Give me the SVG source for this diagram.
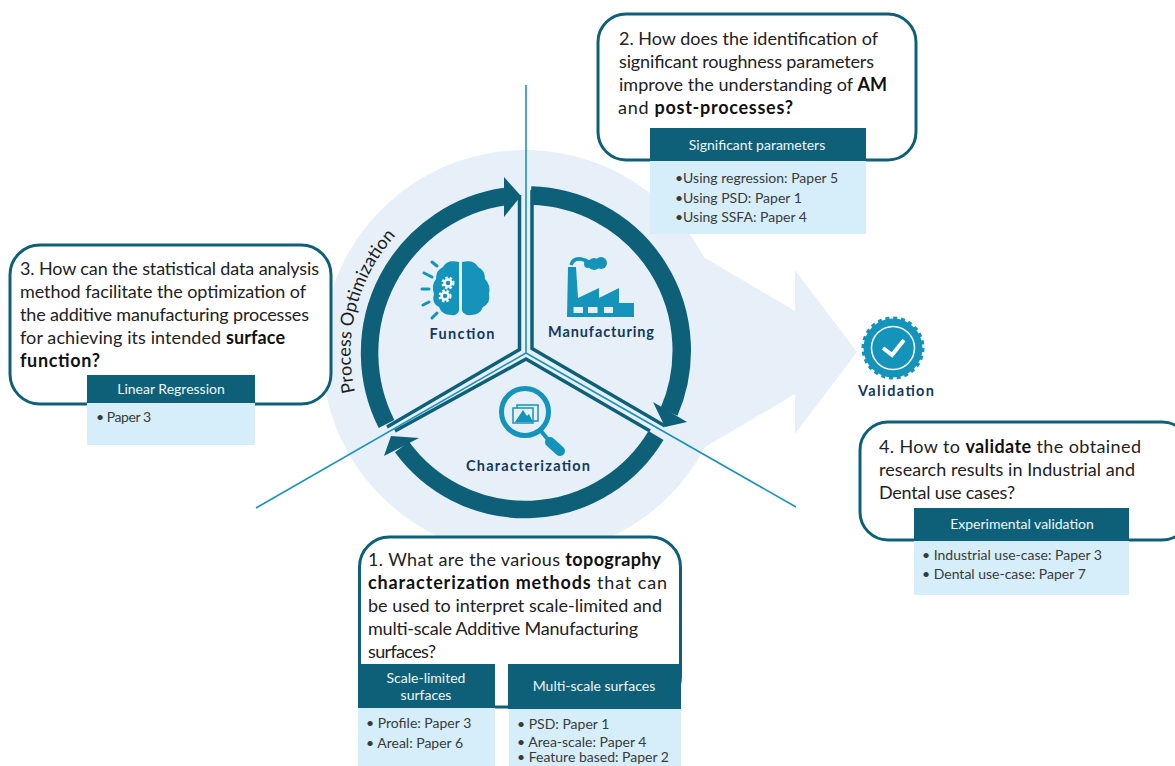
<svg xmlns="http://www.w3.org/2000/svg" width="1175" height="766" viewBox="0 0 1175 766">
<style>
text{font-family:"Lato","Liberation Sans",sans-serif;}
.q{font-size:18px;fill:#222}
.b{font-weight:700;fill:#111}
.box{fill:#fff;stroke:#0e6079;stroke-width:3}
.hd{fill:#0e6079}
.bd{fill:#d5eef9}
.ht{font-size:14px;fill:#eef7fb;text-anchor:middle}
.li{font-size:14px;fill:#3a3a3a}
.lab{font-size:14.5px;font-weight:700;fill:#12395f;text-anchor:middle}
.ring{fill:none;stroke:#0e6079;stroke-width:17.500}
.wall{fill:none;stroke:#0e6079;stroke-width:3.500}
.ray{stroke:#1493bb;stroke-width:3;stroke-linecap:round;fill:none}
.ic{fill:#1493bb}
.tl{stroke:#1a93bc;stroke-width:1.600;fill:none}
.gear{fill:none;stroke:#fff;stroke-width:2.500}
.cog{fill:none;stroke:#fff;stroke-width:2;stroke-dasharray:2.500 2}
</style>
<defs><path id="po" d="M355 392A175 175 0 0 1 405 226"/></defs>

<g id="background">
<circle cx="525" cy="353" r="203" fill="#e7f0f8"/>
<polygon points="700,255 795,311 795,270 857,352 795,434 795,394 700,450" fill="#e7f0f8"/>
</g>

<g id="connectors">
<path class="ring" d="M386.500 424A158 158 0 0 1 505 196.500"/>
<polygon points="504,177 521,196 504,217" fill="#0e6079"/>
<path class="ring" style="stroke-width:18.500" d="M531 195.500A155 155 0 0 1 669 412"/>
<polygon points="653,402 665,427 687,422" fill="#0e6079"/>
<path class="ring" d="M656 435.500A152.600 152.600 0 0 1 402 447"/>
<polygon points="419,438 391,436 384,456" fill="#0e6079"/>
<path class="wall" d="M519.500 195V349.500L387 427"/>
<path class="wall" d="M532 190V348.500L665 426"/>
<path class="wall" d="M395 431L526 359L650 431"/>
<path class="tl" d="M526 85V353L256 508M526 353L796 507"/>
</g>

<g id="function">
<path class="ray" d="M432 262L437 266M424 273L432 277M422 289L429 289M423 305L429 302M432 318L437 313"/>
<path class="ic" d="M459 262Q447 259 443 267Q436 270 436 279Q431 285 434 294Q431 303 439 307Q442 315 451 315Q457 316 459 311Z"/>
<path class="ic" d="M462 262Q474 259 478 267Q485 270 485 279Q491 285 489 294Q491 303 483 307Q480 315 471 315Q465 316 462 311Z"/>
<circle class="gear" cx="448" cy="283" r="3.500"/><circle class="cog" cx="448" cy="283" r="5.500"/>
<circle class="gear" cx="445" cy="296" r="3.500"/><circle class="cog" cx="445" cy="296" r="5.500"/>
<text class="lab" x="462" y="339" textLength="65">Function</text>
</g>

<g id="manufacturing">
<path class="ic" d="M568 267H576L578 298L599 288V298L619 288V303H634V317H567Z"/>
<g fill="#e7f0f8"><rect x="573.500" y="307" width="9.500" height="6"/><rect x="588" y="307" width="9.500" height="6"/><rect x="604" y="307" width="9" height="6"/></g>
<path d="M571 265Q573 258 581 259Q586 260 590 263" fill="none" stroke="#1493bb" stroke-width="3.500"/>
<circle class="ic" cx="588" cy="264" r="4"/><circle class="ic" cx="594" cy="264" r="6"/><circle class="ic" cx="601" cy="263" r="6"/>
<text class="lab" x="601" y="337" textLength="106">Manufacturing</text>
</g>

<g id="characterization">
<circle cx="525" cy="412" r="23.500" fill="none" stroke="#1493bb" stroke-width="5"/>
<path d="M541 431L550 442" stroke="#1493bb" stroke-width="4" fill="none"/>
<path d="M550 442L560 451" stroke="#1493bb" stroke-width="10" stroke-linecap="round" fill="none"/>
<rect x="517" y="405" width="21" height="16" fill="none" stroke="#1493bb" stroke-width="1.500"/>
<rect x="513" y="408" width="20" height="15" fill="#e7f0f8" stroke="#1493bb" stroke-width="1.500"/>
<polygon points="515,422 523,410 527,416 529,414 533,422" fill="#1493bb"/>
<text class="lab" x="528" y="471" textLength="124">Characterization</text>
</g>

<g id="validation">
<circle cx="893" cy="348" r="29.500" fill="#1493bb" stroke="#1493bb" stroke-width="4" stroke-dasharray="4 3.720"/>
<circle cx="893" cy="348" r="21.500" fill="none" stroke="#fff" stroke-width="1.500"/>
<path d="M883 348L892 355L904 340" fill="none" stroke="#fff" stroke-width="4"/>
<text class="lab" x="896" y="396" textLength="76">Validation</text>
</g>

<text font-size="18" fill="#1c1c1c" textLength="168"><textPath href="#po" textLength="168">Process Optimization</textPath></text>

<g id="question-2">
<rect class="box" x="598" y="14" width="318" height="146" rx="28"/>
<text class="q" x="619" y="45" textLength="259">2. How does the identification of</text>
<text class="q" x="619" y="68" textLength="255">significant roughness parameters</text>
<text class="q" x="619" y="91" textLength="268">improve the understanding of <tspan class="b">AM</tspan></text>
<text class="q" x="618" y="114" textLength="175">and <tspan class="b">post-processes?</tspan></text>
<rect class="bd" x="650" y="161" width="216" height="73"/>
<rect class="hd" x="650" y="128" width="216" height="33"/>
<text class="ht" x="757" y="150">Significant parameters</text>
<text class="li" x="675" y="183">•Using regression: Paper 5</text>
<text class="li" x="675" y="203">•Using PSD: Paper 1</text>
<text class="li" x="675" y="222">•Using SSFA: Paper 4</text>
</g>

<g id="question-3">
<rect class="box" x="10" y="245" width="321" height="159" rx="30"/>
<text class="q" x="20" y="275" textLength="299">3. How can the statistical data analysis</text>
<text class="q" x="20" y="298" textLength="286">method facilitate the optimization of</text>
<text class="q" x="20" y="321" textLength="289">the additive manufacturing processes</text>
<text class="q" x="20" y="344" textLength="265">for achieving its intended <tspan class="b">surface</tspan></text>
<text class="q b" x="20" y="367" textLength="80">function?</text>
<rect class="bd" x="87" y="402" width="168" height="43"/>
<rect class="hd" x="87" y="375" width="168" height="28"/>
<text class="ht" x="171" y="394">Linear Regression</text>
<text class="li" x="96" y="422" textLength="55">• Paper 3</text>
</g>

<g id="question-4">
<rect class="box" x="860" y="422" width="330" height="118" rx="28"/>
<text class="q" x="879" y="453" textLength="262">4. How to <tspan class="b">validate</tspan> the obtained</text>
<text class="q" x="879" y="476" textLength="256">research results in Industrial and</text>
<text class="q" x="879" y="499" textLength="136">Dental use cases?</text>
<rect class="bd" x="914" y="540" width="215" height="55"/>
<rect class="hd" x="914" y="508" width="215" height="33"/>
<text class="ht" x="1022" y="529">Experimental validation</text>
<text class="li" x="922" y="560">• Industrial use-case: Paper 3</text>
<text class="li" x="922" y="579">• Dental use-case: Paper 7</text>
</g>

<g id="question-1">
<rect class="box" x="359.500" y="537" width="321" height="170" rx="30"/>
<text class="q" x="368" y="566" textLength="293">1. What are the various <tspan class="b">topography</tspan></text>
<text class="q b" x="368" y="589" textLength="299">characterization methods <tspan style="font-weight:400;fill:#222">that can</tspan></text>
<text class="q" x="368" y="612" textLength="294">be used to interpret scale-limited and</text>
<text class="q" x="368" y="635" textLength="270">multi-scale Additive Manufacturing</text>
<text class="q" x="368" y="658" textLength="68">surfaces?</text>
<rect class="bd" x="358" y="708" width="137" height="58"/>
<rect class="bd" x="509" y="709" width="172" height="57"/>
<rect class="hd" x="358" y="664" width="137" height="44"/>
<rect class="hd" x="508" y="664" width="173" height="45"/>
<text class="ht" x="426" y="683">Scale-limited</text>
<text class="ht" x="426" y="700">surfaces</text>
<text class="ht" x="594" y="691">Multi-scale surfaces</text>
<text class="li" x="366" y="728">• Profile: Paper 3</text>
<text class="li" x="366" y="748">• Areal: Paper 6</text>
<text class="li" x="517" y="729">• PSD: Paper 1</text>
<text class="li" x="517" y="747">• Area-scale: Paper 4</text>
<text class="li" x="517" y="762">• Feature based: Paper 2</text>
</g>
</svg>
